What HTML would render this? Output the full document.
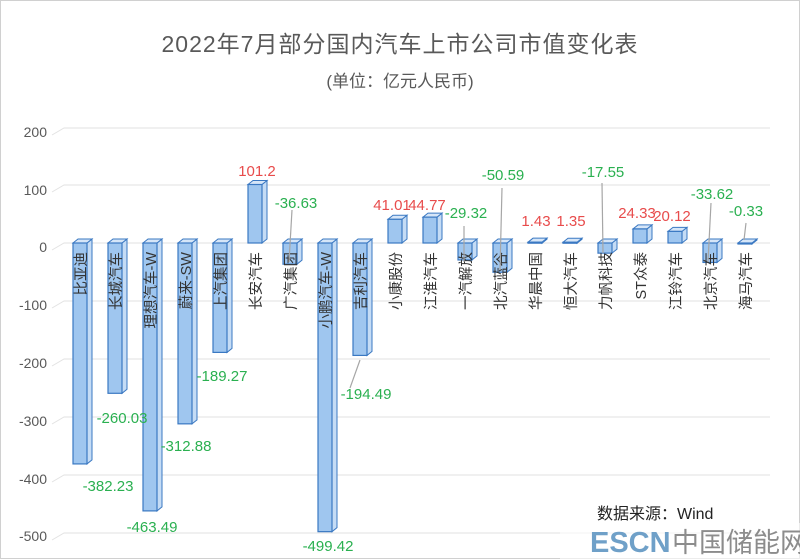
<!DOCTYPE html>
<html><head><meta charset="utf-8"><style>
body{margin:0;background:#fff}
svg{display:block}
text{font-family:"Liberation Sans","Noto Sans CJK SC",sans-serif}
</style></head><body>
<svg id="s" width="800" height="559" viewBox="0 0 800 559" xmlns="http://www.w3.org/2000/svg">
<rect x="0.5" y="0.5" width="799" height="558" fill="#fff" stroke="#d0d0d0"/>
<text x="400" y="52" font-size="23" fill="#595959" text-anchor="middle" letter-spacing="1">2022年7月部分国内汽车上市公司市值变化表</text>
<text x="400" y="87" font-size="17" fill="#595959" text-anchor="middle">(单位：亿元人民币)</text>
<g stroke="#e2e2e2" stroke-width="1" fill="none">
<path d="M52,135 L64,128 H770"/><path d="M52,192 L64,185 H770"/><path d="M52,250 L64,243 H770"/>
<path d="M52,308 L64,301 H770"/><path d="M52,366 L64,359 H770"/><path d="M52,424 L64,417 H770"/>
<path d="M52,482 L64,475 H770"/><path d="M52,540 L64,533 H770"/>
</g>
<g font-size="14" fill="#595959" text-anchor="end">
<text x="47" y="137">200</text><text x="47" y="195">100</text><text x="47" y="252">0</text>
<text x="47" y="310">-100</text><text x="47" y="368">-200</text><text x="47" y="426">-300</text>
<text x="47" y="484">-400</text><text x="47" y="541">-500</text>
</g>
<g id="bars"></g>
<g font-size="14.5" fill="#333" text-anchor="end">
<text transform="translate(86,252) rotate(-90)">比亚迪</text>
<text transform="translate(121,252) rotate(-90)">长城汽车</text>
<text transform="translate(156,252) rotate(-90)">理想汽车-W</text>
<text transform="translate(191,252) rotate(-90)">蔚来-SW</text>
<text transform="translate(226,252) rotate(-90)">上汽集团</text>
<text transform="translate(261,252) rotate(-90)">长安汽车</text>
<text transform="translate(296,252) rotate(-90)">广汽集团</text>
<text transform="translate(331,252) rotate(-90)">小鹏汽车-W</text>
<text transform="translate(366,252) rotate(-90)">吉利汽车</text>
<text transform="translate(401,252) rotate(-90)">小康股份</text>
<text transform="translate(436,252) rotate(-90)">江淮汽车</text>
<text transform="translate(471,252) rotate(-90)">一汽解放</text>
<text transform="translate(506,252) rotate(-90)">北汽蓝谷</text>
<text transform="translate(541,252) rotate(-90)">华晨中国</text>
<text transform="translate(576,252) rotate(-90)">恒大汽车</text>
<text transform="translate(611,252) rotate(-90)">力帆科技</text>
<text transform="translate(646,252) rotate(-90)">ST众泰</text>
<text transform="translate(681,252) rotate(-90)">江铃汽车</text>
<text transform="translate(716,252) rotate(-90)">北京汽车</text>
<text transform="translate(751,252) rotate(-90)">海马汽车</text>
</g>
<g stroke="#a6a6a6" stroke-width="1.2">
<line x1="292" y1="210" x2="289" y2="262"/>
<line x1="464" y1="226" x2="464" y2="262"/>
<line x1="502" y1="188" x2="500" y2="270"/>
<line x1="602" y1="183" x2="603" y2="253"/>
<line x1="711" y1="203" x2="708" y2="262"/>
<line x1="746" y1="223" x2="744" y2="240"/>
<line x1="360" y1="360" x2="350" y2="388"/>
</g>
<g font-size="15" text-anchor="middle">
<text x="108" y="491" fill="#2ab050">-382.23</text>
<text x="122" y="423" fill="#2ab050">-260.03</text>
<text x="152" y="532" fill="#2ab050">-463.49</text>
<text x="186" y="451" fill="#2ab050">-312.88</text>
<text x="222" y="381" fill="#2ab050">-189.27</text>
<text x="257" y="176" fill="#e84b4b">101.2</text>
<text x="296" y="208" fill="#2ab050">-36.63</text>
<text x="328" y="551" fill="#2ab050">-499.42</text>
<text x="366" y="399" fill="#2ab050">-194.49</text>
<text x="392" y="210" fill="#e84b4b">41.01</text>
<text x="427" y="210" fill="#e84b4b">44.77</text>
<text x="466" y="218" fill="#2ab050">-29.32</text>
<text x="503" y="180" fill="#2ab050">-50.59</text>
<text x="536" y="226" fill="#e84b4b">1.43</text>
<text x="571" y="226" fill="#e84b4b">1.35</text>
<text x="603" y="177" fill="#2ab050">-17.55</text>
<text x="637" y="218" fill="#e84b4b">24.33</text>
<text x="672" y="221" fill="#e84b4b">20.12</text>
<text x="712" y="199" fill="#2ab050">-33.62</text>
<text x="746" y="216" fill="#2ab050">-0.33</text>
</g>
<text x="597" y="519" font-size="16" fill="#222">数据来源：Wind</text>
<rect x="560" y="523" width="240" height="36" fill="#fff" opacity="0.6"/>
<text x="590" y="552" font-size="29" font-weight="bold" fill="#6fa0c8">ESCN</text>
<text x="672" y="552" font-size="27" fill="#8c8c8c">中国储能网</text>
</svg>
<script>
var v=[-382.23,-260.03,-463.49,-312.88,-189.27,101.2,-36.63,-499.42,-194.49,41.01,44.77,-29.32,-50.59,1.43,1.35,-17.55,24.33,20.12,-33.62,-0.33];
var z=243,k=0.578,w=14,dx=5,dy=4,h='';
v.forEach(function(val,i){
 var x=73+35*i,y=z-val*k,t=Math.min(z,y),b=Math.max(z,y);
 if(b-t<1)b=t+1;
 h+='<polygon points="'+(x+w)+','+t+' '+(x+w+dx)+','+(t-dy)+' '+(x+w+dx)+','+(b-dy)+' '+(x+w)+','+b+'" fill="#c5dcf5" stroke="#3a78c2" stroke-width="1"/>';
 h+='<polygon points="'+x+','+t+' '+(x+dx)+','+(t-dy)+' '+(x+w+dx)+','+(t-dy)+' '+(x+w)+','+t+'" fill="#d6e6f8" stroke="#3a78c2" stroke-width="1"/>';
 h+='<rect x="'+x+'" y="'+t+'" width="'+w+'" height="'+(b-t)+'" fill="#9fc6ef" stroke="#3a78c2" stroke-width="1.2"/>';
});
document.getElementById('bars').innerHTML=h;
</script>
</body></html>
